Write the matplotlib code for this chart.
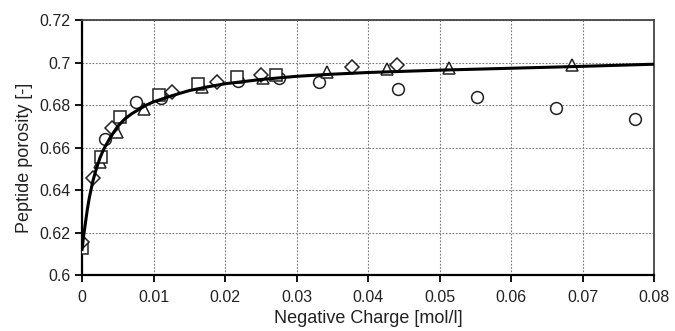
import matplotlib
matplotlib.use("Agg")
import matplotlib.pyplot as plt

plt.rcParams['font.family'] = ['Liberation Sans', 'DejaVu Sans']

# Data
sq_x = [0.0, 0.0027, 0.0053, 0.0108, 0.0162, 0.0217, 0.0271]
sq_y = [0.6127, 0.6555, 0.6744, 0.6847, 0.6899, 0.6932, 0.6941]

di_x = [0.0, 0.0016, 0.0042, 0.0126, 0.0189, 0.0251, 0.0378, 0.0441]
di_y = [0.6155, 0.6456, 0.6692, 0.6861, 0.6908, 0.6941, 0.6979, 0.6988]

tr_x = [0.0025, 0.0049, 0.0087, 0.0168, 0.0253, 0.0343, 0.0427, 0.0513, 0.0685]
tr_y = [0.6530, 0.6673, 0.6781, 0.6885, 0.6927, 0.6955, 0.6970, 0.6974, 0.6988]

ci_x = [0.0032, 0.0075, 0.0110, 0.0218, 0.0275, 0.0331, 0.0442, 0.0552, 0.0663, 0.0773]
ci_y = [0.6640, 0.6814, 0.6833, 0.6913, 0.6927, 0.6908, 0.6875, 0.6838, 0.6786, 0.6734]

fit_x = [0.0, 0.00025, 0.0005, 0.00075, 0.001, 0.0015, 0.002, 0.0025, 0.003, 0.004,
         0.005, 0.006, 0.007, 0.008, 0.009, 0.010, 0.0125, 0.015, 0.0175, 0.02,
         0.025, 0.03, 0.035, 0.04, 0.05, 0.06, 0.07, 0.08]
fit_y = [0.612, 0.619, 0.625, 0.631, 0.636, 0.644, 0.650, 0.655, 0.659, 0.665,
         0.670, 0.6735, 0.676, 0.678, 0.680, 0.6815, 0.6843, 0.6868, 0.6885, 0.690,
         0.692, 0.6935, 0.6945, 0.6953, 0.6964, 0.6973, 0.6982, 0.6992]

xticks = [0, 0.01, 0.02, 0.03, 0.04, 0.05, 0.06, 0.07, 0.08]
xtick_labels = ['0', '0.01', '0.02', '0.03', '0.04', '0.05', '0.06', '0.07', '0.08']
yticks = [0.6, 0.62, 0.64, 0.66, 0.68, 0.7, 0.72]
ytick_labels = ['0.6', '0.62', '0.64', '0.66', '0.68', '0.7', '0.72']

fig = plt.figure(figsize=(6.75, 3.31), dpi=100)
ax = fig.add_axes([0.1215, 0.169, 0.969 - 0.1215, 0.9396 - 0.169])

mkw = dict(linestyle='none', markerfacecolor='white', markeredgecolor='#222222',
           markeredgewidth=1.1, zorder=3)
ax.plot(ci_x, ci_y, marker='o', markersize=8.5, **mkw)
ax.plot(tr_x, tr_y, marker='^', markersize=8.5, **mkw)
ax.plot(sq_x, sq_y, marker='s', markersize=8, **mkw)
ax.plot(di_x, di_y, marker='D', markersize=7.5, **mkw)
ax.plot(fit_x, fit_y, color='black', linewidth=2.2, zorder=4)

ax.set_xlim(0, 0.08)
ax.set_ylim(0.6, 0.72)
ax.set_xticks(xticks)
ax.set_xticklabels(xtick_labels)
ax.set_yticks(yticks)
ax.set_yticklabels(ytick_labels)
ax.tick_params(axis='both', labelsize=11.5, direction='out', length=5, width=1.3,
               color='black', labelcolor='#222222')
ax.tick_params(axis='x', pad=6)

ax.grid(True, color='#777777', linestyle=(0, (1.5, 1.5)), linewidth=0.8)
ax.set_axisbelow(True)

for s in ['left', 'bottom']:
    ax.spines[s].set_linewidth(1.6)
    ax.spines[s].set_color('black')
for s in ['top', 'right']:
    ax.spines[s].set_linewidth(1.3)
    ax.spines[s].set_color('#444444')

ax.set_xlabel('Negative Charge [mol/l]', fontsize=13, color='#222222', labelpad=3)
ax.set_ylabel('Peptide porosity [-]', fontsize=13, color='#222222')
ax.yaxis.set_label_coords(-0.085, 0.46)

fig.savefig('out.png', dpi=100)
